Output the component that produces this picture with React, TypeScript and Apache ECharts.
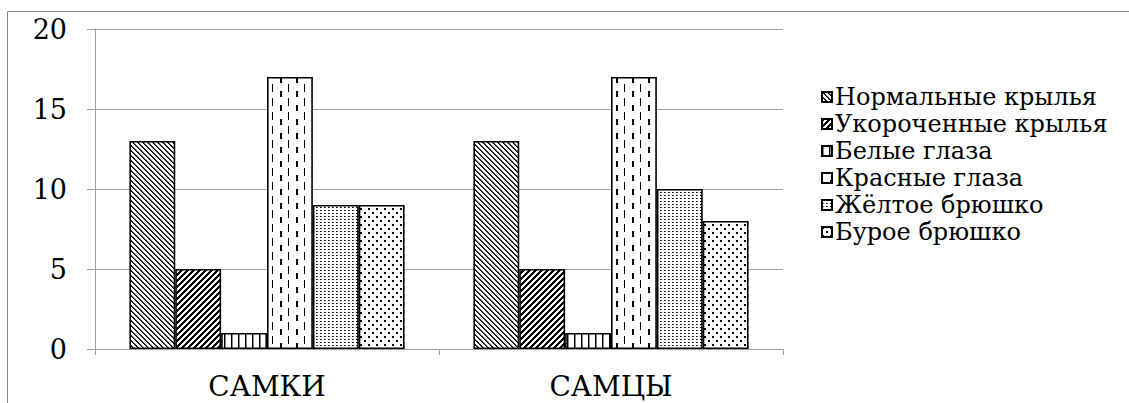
import React, { useEffect, useRef } from "react";
import * as echarts from "echarts";

const categories = ["САМКИ", "САМЦЫ"];
const seriesNames = [
  "Нормальные крылья",
  "Укороченные крылья",
  "Белые глаза",
  "Красные глаза",
  "Жёлтое брюшко",
  "Бурое брюшко",
];
const normalWings = [13, 13];
const shortWings = [5, 5];
const whiteEyes = [1, 1];
const redEyes = [17, 17];
const yellowBelly = [9, 10];
const brownBelly = [9, 8];
const seriesValues = [normalWings, shortWings, whiteEyes, redEyes, yellowBelly, brownBelly];
const yTicks = { min: 0, max: 20, interval: 5 };

type PixFn = (x: number, y: number) => string | null;

function makePattern(w: number, h: number, fn: PixFn) {
  const c = document.createElement("canvas");
  c.width = w;
  c.height = h;
  const ctx = c.getContext("2d")!;
  ctx.fillStyle = "#ffffff";
  ctx.fillRect(0, 0, w, h);
  for (let y = 0; y < h; y++) {
    for (let x = 0; x < w; x++) {
      const col = fn(x, y);
      if (col) {
        ctx.fillStyle = col;
        ctx.fillRect(x, y, 1, 1);
      }
    }
  }
  return { image: c.toDataURL(), repeat: "repeat", imageWidth: w, imageHeight: h };
}

function buildPatterns() {
  const mod = (a: number, n: number) => ((a % n) + n) % n;
  const p1 = makePattern(5, 5, (x, y) => {
    const m = mod(x - y, 5);
    return m === 0 ? "#000" : m === 1 ? "#444" : null;
  });
  const p2 = makePattern(6, 6, (x, y) => {
    const m = mod(x + y, 6);
    return m <= 2 ? "#000" : null;
  });
  const p3 = makePattern(7, 7, (x) => (x === 0 ? "#000" : x === 1 ? "#888" : null));
  const p4 = makePattern(16, 14, (x, y) => {
    if (x === 0 && y < 8) return "#000";
    if ((x === 8 || x === 9) && y >= 7 && y < 13) return "#000";
    return null;
  });
  const p5 = makePattern(4, 3, (x, y) => (y === 0 && x === 0 ? "#000" : y === 0 && x === 1 ? "#555" : null));
  const p6 = makePattern(8, 8, (x, y) => {
    if ((x < 2 && y < 2) || (x >= 4 && x < 6 && y >= 4 && y < 6)) return "#000";
    return null;
  });
  return [p1, p2, p3, p4, p5, p6];
}

const FONT = "DejaVu Serif";

export default function App() {
  const ref = useRef<HTMLDivElement>(null);
  useEffect(() => {
    if (!ref.current) return;
    const chart = echarts.init(ref.current, null, { renderer: "svg" });
    const patterns = buildPatterns();
    const option: any = {
      animation: false,
      backgroundColor: "#ffffff",
      textStyle: { fontFamily: FONT },
      grid: { left: 95, right: 346, top: 29, bottom: 54, containLabel: false },
      legend: {
        orient: "vertical",
        left: 816,
        top: 80,
        icon: "rect",
        itemWidth: 10,
        itemHeight: 10,
        itemGap: 3,
        textStyle: { fontFamily: FONT, fontSize: 24, color: "#000", padding: [0, 0, 0, -2] },
        data: seriesNames,
      },
      xAxis: {
        type: "category",
        data: categories,
        axisLine: { show: true, lineStyle: { color: "#a0a0a0", width: 1 } },
        axisTick: { show: true, length: 6, lineStyle: { color: "#a0a0a0" } },
        axisLabel: { fontFamily: FONT, fontSize: 28, color: "#000", margin: 23 },
      },
      yAxis: {
        type: "value",
        min: yTicks.min,
        max: yTicks.max,
        interval: yTicks.interval,
        axisLine: { show: true, lineStyle: { color: "#a0a0a0", width: 1 } },
        axisTick: { show: true, length: 8, lineStyle: { color: "#a0a0a0" } },
        splitLine: { show: true, lineStyle: { color: "#a0a0a0", width: 1 } },
        axisLabel: { fontFamily: FONT, fontSize: 27, color: "#000", margin: 28 },
      },
      graphic: [
        { type: "line", shape: { x1: 7.5, y1: 11.5, x2: 1129, y2: 11.5 }, style: { stroke: "#888", lineWidth: 1 } },
        { type: "line", shape: { x1: 7.5, y1: 11.5, x2: 7.5, y2: 403 }, style: { stroke: "#888", lineWidth: 1 } },
      ],
      series: seriesNames.map((name, i) => ({
        name,
        type: "bar",
        data: seriesValues[i],
        barGap: "0%",
        barCategoryGap: "20%",
        itemStyle: { color: patterns[i], borderColor: "#000", borderWidth: 1.6 },
        emphasis: { disabled: true },
      })),
    };
    chart.setOption(option);
    return () => chart.dispose();
  }, []);
  return (
    <div
      ref={ref}
      style={{ position: "fixed", left: 0, top: 0, width: 1129, height: 403 }}
    />
  );
}
